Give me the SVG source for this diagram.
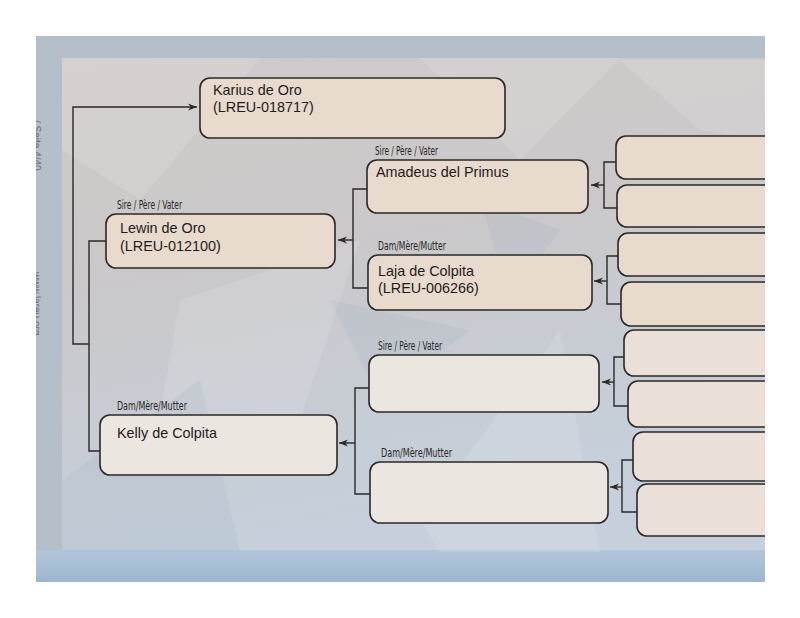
<svg xmlns="http://www.w3.org/2000/svg" width="800" height="618" viewBox="0 0 800 618">
<style>
.box{stroke:#2b2826;stroke-width:1.6}
.up{fill:#e8dacd}
.lo{fill:#ece6e0}
.lo2{fill:#eae0d7}
.name{font-family:"Liberation Sans",Arial,sans-serif;font-size:14.4px;fill:#1f1c1b}
.lab{font-family:"Liberation Sans Narrow","DejaVu Sans Condensed",sans-serif;font-size:12px;fill:#2a2726}
.con{fill:none;stroke:#2b2826;stroke-width:1.4}
.side{font-family:"Liberation Sans",Arial,sans-serif;font-size:10px;fill:#4a4c52;opacity:0.75}
</style>
<defs>
<clipPath id="page"><rect x="36" y="36" width="729" height="546"/></clipPath>
<linearGradient id="inner" x1="0" y1="0" x2="0.25" y2="1">
<stop offset="0" stop-color="#d0cbc9"/>
<stop offset="0.45" stop-color="#cac8ca"/>
<stop offset="1" stop-color="#c5d0dc"/>
</linearGradient>
<linearGradient id="band" x1="0" y1="0" x2="0" y2="1">
<stop offset="0" stop-color="#b3c6d9"/>
<stop offset="1" stop-color="#9db7d1"/>
</linearGradient>
<marker id="arr" viewBox="0 0 10 8" refX="10" refY="4" markerWidth="9" markerHeight="7.2" markerUnits="userSpaceOnUse" orient="auto">
<path d="M0,0 L10,4 L0,8 L3,4 z" fill="#2b2826"/>
</marker>
</defs>
<rect width="800" height="618" fill="#ffffff"/>
<g clip-path="url(#page)">
<rect x="36" y="36" width="729" height="546" fill="#b5bfca"/>
<rect x="62" y="58" width="703" height="494" fill="url(#inner)"/>
<rect x="36" y="550" width="729" height="32" fill="url(#band)"/>
<g fill="#ffffff" opacity="0.12">
<polygon points="62,58 260,58 140,200 62,150"/>
<polygon points="420,58 620,58 520,160"/>
<polygon points="180,300 360,240 300,420 150,470"/>
<polygon points="420,520 560,330 600,552 440,552"/>
<polygon points="620,60 765,60 765,140 700,130"/>
</g>
<g fill="#8ea3bb" opacity="0.12">
<polygon points="62,480 200,380 240,552 62,552"/>
<polygon points="330,300 470,330 380,400"/>
<polygon points="480,200 560,230 510,300"/>
</g>
<text class="side" transform="translate(33,120) rotate(90)">/ Seite 4/40</text>
<text class="side" transform="translate(33,272) rotate(90)">www.lareu.org</text>

<g id="connectors">
<path class="con" d="M89,344 H73 V107 H197" marker-end="url(#arr)"/>
<path class="con" d="M106,241 H89 V451 H100"/>
<path class="con" d="M367,189 H353 V288 H368"/>
<path class="con" d="M353,240 H338" marker-end="url(#arr)"/>
<path class="con" d="M369,388 H355 V494 H370"/>
<path class="con" d="M355,443 H339" marker-end="url(#arr)"/>
<path class="con" d="M616,162 H604 V208 H617"/>
<path class="con" d="M604,185 H591" marker-end="url(#arr)"/>
<path class="con" d="M619,256 H607 V304 H621"/>
<path class="con" d="M607,281 H594" marker-end="url(#arr)"/>
<path class="con" d="M624,357 H614 V406 H628"/>
<path class="con" d="M614,382 H602" marker-end="url(#arr)"/>
<path class="con" d="M633,460 H622 V512 H637"/>
<path class="con" d="M622,487 H610" marker-end="url(#arr)"/>
</g>

<g id="karius">
<rect class="box up" x="200" y="78" width="305" height="60" rx="10"/>
<text class="name" x="213" y="95">Karius de Oro</text>
<text class="name" x="213" y="112">(LREU-018717)</text>
</g>
<g id="lewin">
<text class="lab" x="117" y="209" textLength="65" lengthAdjust="spacingAndGlyphs">Sire / Père / Vater</text>
<rect class="box up" x="106" y="214" width="229" height="54" rx="10"/>
<text class="name" x="120" y="233">Lewin de Oro</text>
<text class="name" x="120" y="251">(LREU-012100)</text>
</g>
<g id="kelly">
<text class="lab" x="117" y="410" textLength="70" lengthAdjust="spacingAndGlyphs">Dam/Mère/Mutter</text>
<rect class="box lo" x="100" y="415" width="237" height="60" rx="10"/>
<text class="name" x="117" y="438">Kelly de Colpita</text>
</g>
<g id="amadeus">
<text class="lab" x="375" y="155" textLength="63" lengthAdjust="spacingAndGlyphs">Sire / Père / Vater</text>
<rect class="box up" x="367" y="160" width="221" height="53" rx="10"/>
<text class="name" x="376" y="177">Amadeus del Primus</text>
</g>
<g id="laja">
<text class="lab" x="378" y="250" textLength="68" lengthAdjust="spacingAndGlyphs">Dam/Mère/Mutter</text>
<rect class="box up" x="368" y="255" width="224" height="55" rx="10"/>
<text class="name" x="378" y="276">Laja de Colpita</text>
<text class="name" x="378" y="293">(LREU-006266)</text>
</g>
<g id="sire2">
<text class="lab" x="378" y="350" textLength="64" lengthAdjust="spacingAndGlyphs">Sire / Père / Vater</text>
<rect class="box lo" x="369" y="355" width="230" height="57" rx="10"/>
</g>
<g id="dam2">
<text class="lab" x="381" y="457" textLength="71" lengthAdjust="spacingAndGlyphs">Dam/Mère/Mutter</text>
<rect class="box lo" x="370" y="462" width="238" height="61" rx="10"/>
</g>
<g id="g1"><rect class="box up" x="616" y="136" width="200" height="43" rx="10"/></g>
<g id="g2"><rect class="box up" x="617" y="185" width="200" height="42" rx="10"/></g>
<g id="g3"><rect class="box up" x="618" y="233" width="200" height="43" rx="10"/></g>
<g id="g4"><rect class="box up" x="621" y="282" width="200" height="44" rx="10"/></g>
<g id="g5"><rect class="box lo2" x="624" y="330" width="200" height="46" rx="10"/></g>
<g id="g6"><rect class="box lo2" x="628" y="381" width="200" height="46" rx="10"/></g>
<g id="g7"><rect class="box lo2" x="633" y="432" width="200" height="49" rx="10"/></g>
<g id="g8"><rect class="box lo2" x="637" y="484" width="200" height="52" rx="10"/></g>
</g>
</svg>
